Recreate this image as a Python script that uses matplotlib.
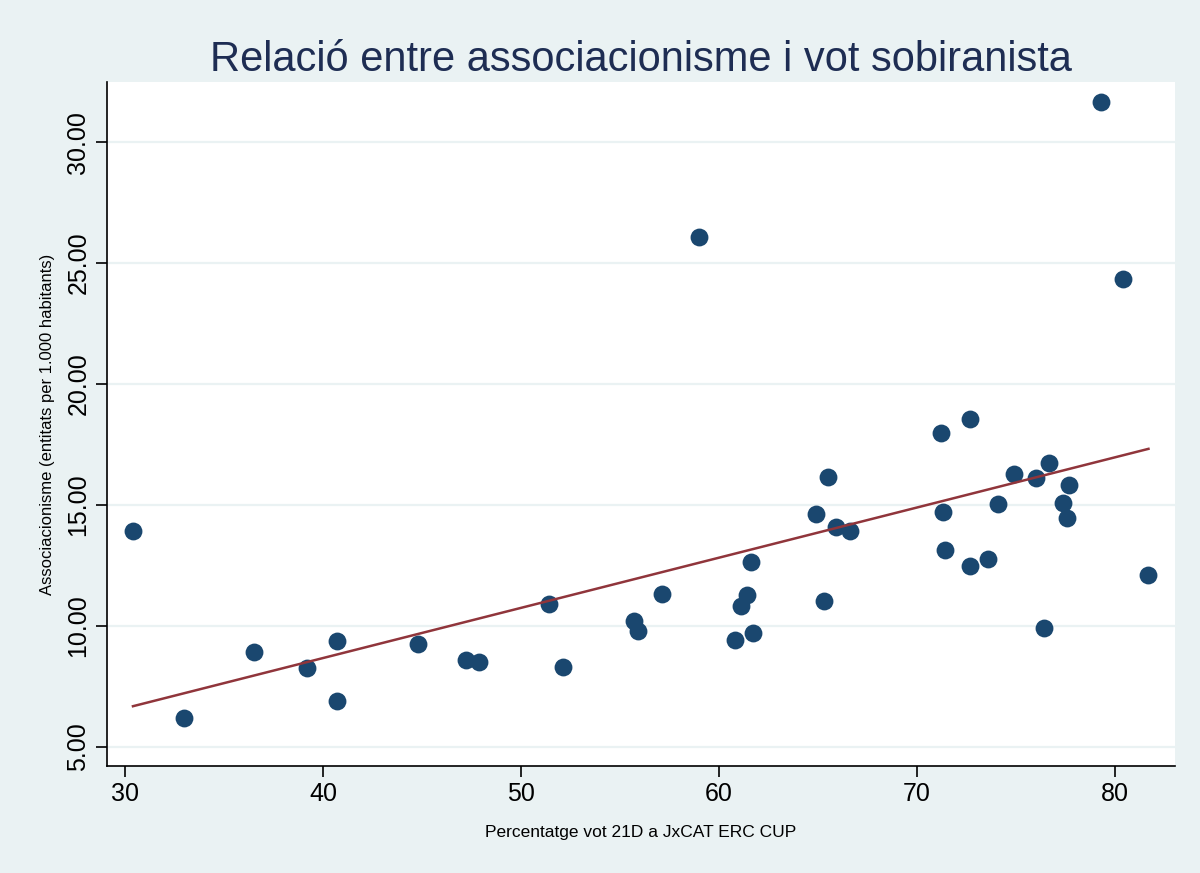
import matplotlib

matplotlib.use("agg")
import matplotlib.pyplot as plt
import numpy as np

# vote share (%) and associations per 1,000 inhabitants
vot = [30.4, 33.0, 36.5, 39.2, 40.7, 40.7, 44.8, 47.2, 47.9, 51.4,
       52.1, 55.7, 55.9, 57.1, 59.0, 60.8, 61.1, 61.4, 61.6, 61.7,
       64.9, 65.3, 65.5, 65.9, 66.6, 71.2, 71.3, 71.4, 72.7, 72.7,
       73.6, 74.1, 74.9, 76.0, 76.4, 76.7, 77.4, 77.7, 77.6, 79.3,
       80.4, 81.7]
assoc = [13.93, 6.20, 8.93, 8.26, 9.38, 6.90, 9.26, 8.60, 8.51, 10.91,
         8.31, 10.21, 9.79, 11.32, 26.07, 9.42, 10.83, 11.28, 12.64, 9.71,
         14.63, 11.03, 16.16, 14.09, 13.93, 17.98, 14.71, 13.14, 18.55, 12.48,
         12.77, 15.04, 16.28, 16.12, 9.92, 16.74, 15.08, 15.83, 14.46, 31.65,
         24.34, 12.11]

x_ticks = [30, 40, 50, 60, 70, 80]
y_ticks = [5, 10, 15, 20, 25, 30]

BG = "#eaf2f3"
NAVY = "#1a476f"
MAROON = "#90353b"

plt.rcParams["font.family"] = ["Liberation Sans", "DejaVu Sans"]

fig = plt.figure(figsize=(12, 8.73), dpi=100, facecolor=BG)
ax = fig.add_axes([0.0892, 0.1226, 0.8898, 0.7834])
ax.set_facecolor("white")

x = np.array(vot)
y = np.array(assoc)
slope, intercept = np.polyfit(x, y, 1)
xs = np.array([x.min(), x.max()])

ax.scatter(x, y, s=165, color=NAVY, zorder=3, linewidths=0)
ax.plot(xs, intercept + slope * xs, color=MAROON, lw=1.8, zorder=4)

ax.set_xlim(29.09, 83.03)
ax.set_ylim(4.215, 32.48)
ax.set_xticks(x_ticks)
ax.set_yticks(y_ticks)
ax.set_yticklabels([f"{v:.2f}" for v in y_ticks], rotation=90, va="center")
ax.grid(axis="y", color=BG, lw=1.6)
ax.set_axisbelow(True)

for side in ("top", "right"):
    ax.spines[side].set_visible(False)
for side in ("left", "bottom"):
    ax.spines[side].set_color("black")
    ax.spines[side].set_linewidth(1.2)

ax.tick_params(axis="both", direction="out", length=8, width=1.2,
               labelsize=18, colors="black")
ax.tick_params(axis="y", pad=4)

ax.set_xlabel("Percentatge vot 21D a JxCAT ERC CUP", fontsize=12.5, labelpad=14)
ax.set_ylabel("Associacionisme (entitats per 1.000 habitants)", fontsize=12, labelpad=8)
ax.set_title("Relació entre associacionisme i vot sobiranista", fontsize=30,
             color="#1e2d53", pad=8)

fig.savefig("out.png", dpi=100, facecolor=BG)
